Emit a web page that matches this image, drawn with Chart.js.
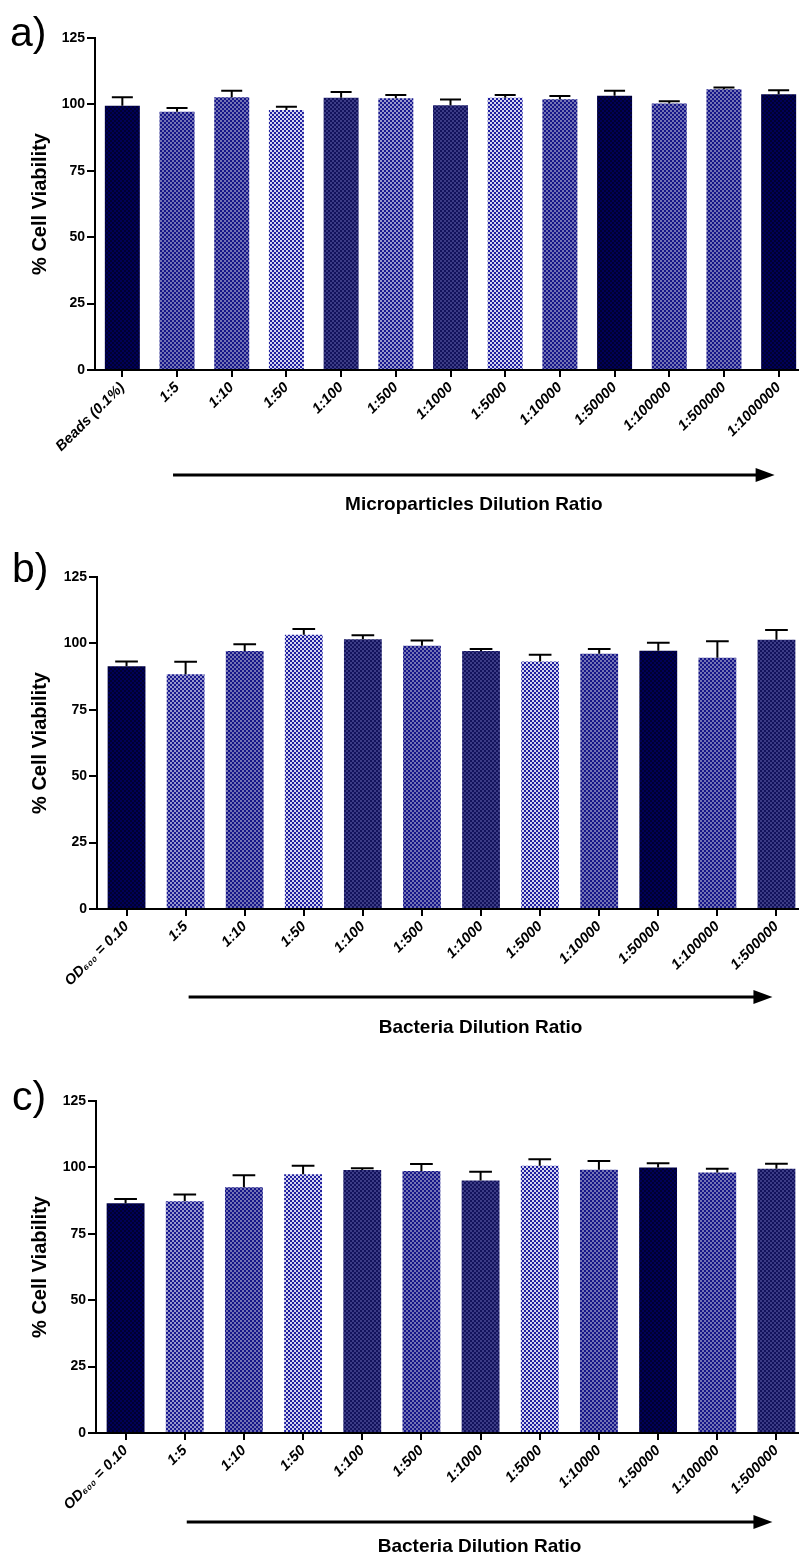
<!DOCTYPE html>
<html>
<head>
<meta charset="utf-8">
<script src="https://cdn.jsdelivr.net/npm/chart.js@4"></script>
<style>
  html, body { margin: 0; padding: 0; background: #fff; overflow: hidden; }
  body { width: 799px; height: 1560px; position: relative; }
  .panel { position: absolute; left: 0; }
</style>
</head>
<body>
<div class="panel" style="top:0"><canvas id="chart-a" width="806" height="520"></canvas></div>
<div class="panel" style="top:520px"><canvas id="chart-b" width="806" height="520"></canvas></div>
<div class="panel" style="top:1040px"><canvas id="chart-c" width="806" height="520"></canvas></div>
<script>
// Données (moyenne et écart-type, % viabilité)
const labelsA = ['Beads (0.1%)', '1:5', '1:10', '1:50', '1:100', '1:500', '1:1000', '1:5000',
    '1:10000', '1:50000', '1:100000', '1:500000', '1:1000000'];
const meanA = [99.5, 97.2, 102.7, 97.9, 102.5, 102.3, 99.7, 102.5, 101.9, 103.3, 100.3, 105.7, 103.8];
const sdA = [3.2, 1.4, 2.4, 1.2, 2.2, 1.2, 2.1, 1.0, 1.3, 1.8, 0.9, 0.7, 1.5];

const labelsBact = ['OD\u2086\u2080\u2080 = 0.10', '1:5', '1:10', '1:50', '1:100', '1:500', '1:1000',
    '1:5000', '1:10000', '1:50000', '1:100000', '1:500000'];
const meanB = [91.4, 88.4, 97.1, 103.3, 101.6, 99.1, 97.1, 93.2, 96.1, 97.2, 94.6, 101.4];
const sdB = [1.8, 4.7, 2.6, 2.1, 1.5, 2.0, 0.8, 2.5, 1.8, 3.0, 6.2, 3.6];

const meanC = [86.5, 87.3, 92.5, 97.4, 99.0, 98.6, 95.1, 100.6, 99.1, 100.0, 98.1, 99.5];
const sdC = [1.6, 2.5, 4.5, 3.2, 0.7, 2.7, 3.3, 2.5, 3.3, 1.6, 1.4, 1.9];

const yTicks = [0, 25, 50, 75, 100, 125];

// Motifs en damier pour chaque barre
const checkers = {
    dark: ['#000030', '#000058'],
    deep: ['#12125c', '#3c3c86'],
    mid: ['#161688', '#7474b4'],
    midlight: ['#1a1a90', '#9898cc'],
    light: ['#2020a0', '#d4d4ee']
};
const shadesA = ['dark', 'mid', 'mid', 'light', 'deep', 'midlight', 'deep', 'light', 'mid', 'dark', 'mid', 'mid', 'dark'];
const shadesBact = ['dark', 'midlight', 'mid', 'light', 'deep', 'mid', 'deep', 'light', 'mid', 'dark', 'mid', 'deep'];

const FONT = '"Liberation Sans", Arial, sans-serif';

function makeChecker(ctx, name) {
    const [c1, c2] = checkers[name];
    const tile = document.createElement('canvas');
    tile.width = 4;
    tile.height = 4;
    const t = tile.getContext('2d');
    t.fillStyle = c1;
    t.fillRect(0, 0, 4, 4);
    t.fillStyle = c2;
    t.fillRect(0, 0, 2, 2);
    t.fillRect(2, 2, 2, 2);
    return ctx.createPattern(tile, 'repeat');
}

/**
 * Barres d'erreur (SD vers le haut uniquement)
 */
const errorBarsPlugin = {
    id: 'errorBars',
    afterDatasetsDraw(chart) {
        const ctx = chart.ctx;
        const yScale = chart.scales.y;
        const ds = chart.data.datasets[0];
        const meta = chart.getDatasetMeta(0);
        ctx.save();
        ctx.strokeStyle = '#000';
        ctx.lineWidth = 2;
        meta.data.forEach((bar, i) => {
            const top = yScale.getPixelForValue(ds.data[i] + ds.sd[i]);
            const half = bar.width * 0.3;
            ctx.beginPath();
            ctx.moveTo(bar.x, bar.y);
            ctx.lineTo(bar.x, top);
            ctx.moveTo(bar.x - half, top);
            ctx.lineTo(bar.x + half, top);
            ctx.stroke();
        });
        ctx.restore();
    }
};

/**
 * Lettre du panneau, flèche et titre de l'axe X
 */
function decorPlugin(p) {
    return {
        id: 'decor',
        afterDraw(chart) {
            const ctx = chart.ctx;
            const x = chart.scales.x;
            const area = chart.chartArea;
            const n = chart.data.labels.length;
            ctx.save();
            ctx.fillStyle = '#000';
            ctx.font = '41px ' + FONT;
            ctx.textBaseline = 'alphabetic';
            ctx.textAlign = 'left';
            ctx.fillText(p.letter, p.letterX, p.letterY);

            const x0 = x.getPixelForValue(1) + p.arrowShift;
            const x1 = x.getPixelForValue(n - 1) - 4;
            const ay = area.bottom + p.arrowDy;
            ctx.strokeStyle = '#000';
            ctx.lineWidth = 3;
            ctx.beginPath();
            ctx.moveTo(x0, ay);
            ctx.lineTo(x1 - 15, ay);
            ctx.stroke();
            ctx.beginPath();
            ctx.moveTo(x1, ay);
            ctx.lineTo(x1 - 19, ay - 7);
            ctx.lineTo(x1 - 19, ay + 7);
            ctx.closePath();
            ctx.fill();

            ctx.font = 'bold 19px ' + FONT;
            ctx.textAlign = 'center';
            ctx.textBaseline = 'middle';
            ctx.fillText(p.title, (x0 + x1) / 2, area.bottom + p.titleDy);
            ctx.restore();
        }
    };
}

function makePanel(id, labels, means, sds, shades, p) {
    const canvas = document.getElementById(id);
    const ctx = canvas.getContext('2d');
    return new Chart(canvas, {
        type: 'bar',
        data: {
            labels: labels,
            datasets: [{
                label: '% Cell Viability',
                data: means,
                sd: sds,
                backgroundColor: shades.map(s => makeChecker(ctx, s)),
                borderWidth: 0,
                barPercentage: 0.64,
                categoryPercentage: 1
            }]
        },
        options: {
            responsive: false,
            animation: false,
            layout: { padding: { top: p.top, right: 0, bottom: 0, left: 0 } },
            plugins: {
                legend: { display: false },
                tooltip: { enabled: false },
                title: { display: false }
            },
            scales: {
                x: {
                    offset: true,
                    afterFit: s => { s.height = 520 - p.bottom; },
                    grid: {
                        offset: false,
                        drawOnChartArea: false,
                        color: '#000',
                        lineWidth: 2,
                        tickLength: 7
                    },
                    border: { color: '#000', width: 2 },
                    ticks: {
                        minRotation: 45,
                        maxRotation: 45,
                        autoSkip: false,
                        padding: 2,
                        color: '#000',
                        font: { family: FONT, size: 14.5, weight: 'bold', style: 'italic' }
                    }
                },
                y: {
                    min: 0,
                    max: 125,
                    afterFit: s => { s.width = p.left; },
                    afterBuildTicks: s => { s.ticks = yTicks.map(v => ({ value: v })); },
                    grid: {
                        drawOnChartArea: false,
                        color: '#000',
                        lineWidth: 2,
                        tickLength: 8
                    },
                    border: { color: '#000', width: 2 },
                    ticks: {
                        padding: 2,
                        color: '#000',
                        font: { family: FONT, size: 14, weight: 'bold' }
                    },
                    title: {
                        display: true,
                        text: '% Cell Viability',
                        color: '#000',
                        padding: { top: 28, bottom: 0 },
                        font: { family: FONT, size: 20, weight: 'bold' }
                    }
                }
            }
        },
        plugins: [errorBarsPlugin, decorPlugin(p)]
    });
}

makePanel('chart-a', labelsA, meanA, sdA, shadesA, {
    top: 38, bottom: 370, left: 95,
    letter: 'a)', letterX: 10, letterY: 46,
    arrowShift: -4, arrowDy: 105, titleDy: 135,
    title: 'Microparticles Dilution Ratio'
});
makePanel('chart-b', labelsBact, meanB, sdB, shadesBact, {
    top: 57, bottom: 389, left: 97,
    letter: 'b)', letterX: 12, letterY: 62,
    arrowShift: 3, arrowDy: 88, titleDy: 119,
    title: 'Bacteria Dilution Ratio'
});
makePanel('chart-c', labelsBact, meanC, sdC, shadesBact, {
    top: 61, bottom: 393, left: 96,
    letter: 'c)', letterX: 12, letterY: 70,
    arrowShift: 2, arrowDy: 89, titleDy: 114,
    title: 'Bacteria Dilution Ratio'
});
</script>
</body>
</html>
